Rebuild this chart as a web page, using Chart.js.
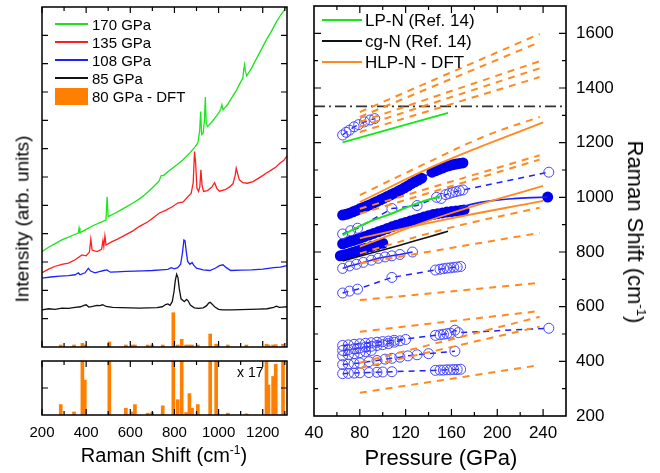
<!DOCTYPE html>
<html>
<head>
<meta charset="utf-8">
<script src="https://cdn.jsdelivr.net/npm/chart.js@4.4.1/dist/chart.umd.min.js"></script>
<style>
  body { margin: 0; background: #fff; }
  #wrap { position: relative; width: 660px; height: 473px; overflow: hidden;
          font-family: "Liberation Sans", Arial, sans-serif; color: #000; }
  canvas { position: absolute; }
  .t { position: absolute; white-space: nowrap; line-height: 1; }
  .ln { position: absolute; height: 2px; }
  sup { font-size: 0.6em; vertical-align: 0.7em; line-height: 0; }
</style>
</head>
<body>
<div id="wrap">
  <canvas id="cTop" width="265" height="357" style="left:32px;top:0"></canvas>
  <canvas id="cBot" width="289" height="122" style="left:20px;top:351px"></canvas>
  <canvas id="cRight" width="360" height="473" style="left:300px;top:0"></canvas>

  <!-- legend, left panel -->
  <div class="ln" style="left:55px;top:23px;width:33px;background:#19e619"></div>
  <div class="t" style="left:92px;top:16.7px;font-size:15px">170 GPa</div>
  <div class="ln" style="left:55px;top:41px;width:33px;background:#ff1e1e"></div>
  <div class="t" style="left:92px;top:34.7px;font-size:15px">135 GPa</div>
  <div class="ln" style="left:55px;top:59px;width:33px;background:#2020ff"></div>
  <div class="t" style="left:92px;top:52.7px;font-size:15px">108 GPa</div>
  <div class="ln" style="left:55px;top:77px;width:33px;background:#111"></div>
  <div class="t" style="left:92px;top:70.7px;font-size:15px">85 GPa</div>
  <div style="position:absolute;left:55px;top:88px;width:33px;height:17px;background:#ff8000"></div>
  <div class="t" style="left:92px;top:89.3px;font-size:15px">80 GPa - DFT</div>

  <div class="t" style="left:237px;top:365px;font-size:14px">x 17</div>

  <!-- legend, right panel -->
  <div class="ln" style="left:322px;top:19px;width:40px;background:#19e619"></div>
  <div class="t" style="left:365px;top:11.7px;font-size:17px">LP-N (Ref. 14)</div>
  <div class="ln" style="left:322px;top:40px;width:40px;background:#111"></div>
  <div class="t" style="left:365px;top:33.2px;font-size:17px">cg-N (Ref. 14)</div>
  <div class="ln" style="left:322px;top:61px;width:40px;background:#ff8a1f"></div>
  <div class="t" style="left:365px;top:53.7px;font-size:17px">HLP-N - DFT</div>

  <!-- axis titles -->
  <div class="t" style="left:22px;top:219px;font-size:19px;transform:translate(-50%,-50%) rotate(-90deg)">Intensity (arb. units)</div>
  <div class="t" style="left:164px;top:445px;font-size:20px;transform:translateX(-50%)">Raman Shift (cm<sup>-1</sup>)</div>
  <div class="t" style="left:441px;top:447px;font-size:22px;transform:translateX(-50%)">Pressure (GPa)</div>
  <div class="t" style="left:635px;top:232px;font-size:22px;transform:translate(-50%,-50%) rotate(90deg)">Raman Shift (cm<sup>-1</sup>)</div>
</div>

<script>
// ---- left panel: Raman spectra (intensity in arb. units) ----
const sx170 = [200,230,260,290,320,350,365,368,372,400,430,460,490,495,500,530,560,590,612,640,670,700,730,740,750,780,810,838,870,895,906,914,919,923,930,936,940,944,950,970,990,1004,1010,1015,1020,1040,1060,1080,1100,1110,1114,1118,1122,1128,1150,1180,1217,1240,1260,1280,1310];
const sy170 = [3.37,3.52,3.65,3.78,3.88,3.98,4.02,4.20,4.03,4.15,4.28,4.38,4.48,5.30,4.60,4.72,4.85,4.98,5.08,5.22,5.40,5.62,5.85,6.05,6.05,6.25,6.42,6.60,6.85,7.08,7.20,7.60,8.31,7.50,7.55,8.00,8.82,7.90,7.78,7.95,8.15,8.31,8.40,8.55,8.37,8.55,8.80,9.05,9.35,9.49,9.80,9.96,9.70,9.57,9.85,10.30,10.85,11.15,11.45,11.70,12.03];

const sx135 = [200,230,260,290,320,350,381,400,415,421,427,449,470,476,480,485,490,517,540,570,612,640,680,710,732,760,790,815,840,860,876,885,891,896,902,909,915,920,925,932,950,970,982,992,1004,1030,1050,1065,1075,1080,1087,1094,1110,1130,1156,1180,1200,1217,1240,1260,1280,1295,1310];
const sy135 = [2.62,2.75,2.85,2.92,2.96,3.08,3.25,3.22,3.35,3.80,3.42,3.37,3.45,3.75,3.55,3.92,3.60,3.72,3.80,3.92,4.10,4.25,4.42,4.60,4.73,4.82,4.95,5.08,5.12,5.30,5.43,5.80,6.90,6.50,5.60,5.49,5.65,6.25,5.70,5.49,5.52,5.65,5.80,5.60,5.50,5.55,5.65,5.76,6.05,6.31,6.10,5.90,5.80,5.78,5.84,5.95,6.05,6.14,6.25,6.35,6.50,6.58,6.75];

const sx108 = [200,240,280,320,350,365,372,395,410,420,440,460,480,494,510,540,580,620,660,700,740,770,785,800,815,828,836,843,848,853,860,870,880,888,900,930,960,985,1004,1020,1035,1055,1100,1150,1200,1250,1280,1310];
const sy108 = [2.43,2.47,2.50,2.52,2.55,2.62,2.55,2.62,2.78,2.68,2.62,2.66,2.70,2.72,2.64,2.65,2.67,2.68,2.69,2.70,2.72,2.74,2.80,2.76,2.80,2.92,3.30,3.78,3.75,3.40,3.02,2.92,2.98,2.88,2.78,2.72,2.70,2.78,2.87,2.90,2.80,2.70,2.71,2.72,2.75,2.80,2.82,2.87];

const sx85 = [200,230,260,290,320,350,375,390,400,412,430,449,462,475,490,520,560,600,640,680,720,745,760,770,780,790,798,804,810,816,822,830,845,855,862,872,890,910,930,945,955,962,970,985,1000,1020,1060,1100,1140,1180,1220,1250,1262,1275,1290,1310];
const sy85 = [1.31,1.35,1.33,1.37,1.36,1.40,1.42,1.47,1.49,1.41,1.43,1.47,1.46,1.49,1.43,1.40,1.39,1.38,1.37,1.38,1.39,1.42,1.50,1.52,1.47,1.60,1.95,2.35,2.57,2.45,2.05,1.70,1.60,1.68,1.63,1.48,1.38,1.36,1.38,1.45,1.55,1.58,1.52,1.40,1.33,1.31,1.31,1.32,1.33,1.34,1.35,1.40,1.44,1.40,1.41,1.42];

// DFT modes at 80 GPa
const dftShift = [285,345,383,394,505,580,610,621,679,699,747,795,815,833,853,868,880,906,962,989,1042,1126,1217,1226,1247,1259,1292];
const dftInt = [0.017,0.005,0.13,0.057,0.18,0.011,0.005,0.017,0.003,0.004,0.015,1.21,0.025,0.27,0.004,0.035,0.011,0.017,0.46,0.1,0.003,0.002,0.1,0.049,0.063,0.083,0.1];
const dftZoom = 17;

// left axis ticks
const leftXTicks = [200,300,400,500,600,700,800,900,1000,1100,1200,1300];
const leftXLabels = [200,400,600,800,1000,1200];
const leftTopYTicks = [1,2,3,4,5,6,7,8,9,10,11];
const leftBotYTicks = [0.75];

// ---- right panel: Raman shift vs pressure ----
// DFT straight dashed modes (80 -> 237 GPa)
const dashP = [80, 237];
const dashFrom = [1312,1294,1276,1258,1239,958,940,758,624,508,395,375,285];
const dashTo   = [1598,1568,1498,1472,1440,1154,1138,870,687,584,563,527,386];
// DFT curved dashed modes
const cdP1 = [80,138,190,237], cdV1 = [1008,1125,1225,1294];
const cdP2 = [80,160,237],     cdV2 = [795,890,962];
// DFT solid (HLP-N) modes
const solP = [80,150,240];
const sol1 = [983,1124,1274];
const sol2 = [820,929,1042];
const sol3 = [850,915,987];

// LP-N and cg-N (Ref. 14)
const lpUpP = [65,157], lpUpV = [1201,1309];
const lpLoP = [65,85,108,130,150], lpLoV = [862,905,941,978,1004];
const cgP = [65,90,115,140,157], cgV = [767,796,825,855,876];
const limitV = 1333;

// experiment, filled symbols
const pF1 = [65,68,71,74,77,80,83,86,89,92,95,98,101,104,107,110,113,116,119,122,125,128,131,134,143,146,149,152,155,158,161,164,167,170];
const vF1 = [935,938,942,947,952,958,963,968,973,979,985,991,997,1003,1009,1015,1021,1028,1035,1042,1050,1057,1063,1070,1092,1097,1102,1107,1112,1116,1119,1122,1124,1126];
const pF2 = [65,68,71,74,77,80,84,88,92,96,100,104,108,112,116,120,124,128,132,136,140,144,148,152,156,160,164,168,171];
const vF2 = [830,834,838,842,846,850,856,862,868,874,880,886,892,898,903,908,913,918,923,928,933,937,940,943,946,948,950,952,954];
const pF3 = [63,66,69,72,75,78,81,85,90,95,100];
const vF3 = [786,789,792,796,800,804,808,814,820,826,832];
const pF4 = [244], vF4 = [1001];
const pFit = [167,180,194,210,225,244], vFit = [962,977,987,994,998,1001];

// experiment, open symbols
const pO1 = [65,68,71,75,79,84,89,93], vO1 = [1228,1238,1246,1258,1266,1276,1283,1288];
const pO2 = [65,72,78,108,130,147,151,155,158,161,164,167,170,245];
const vO2 = [866,878,887,959,970,1000,996,1010,1014,1018,1021,1024,1027,1092];
const pO3 = [65,71,77,83,90,96,102,108,115,126];
const vO3 = [740,749,755,762,770,777,782,786,791,800];
const pO4 = [65,71,78,108,146,150,153,156,159,162,165,168];
const vO4 = [650,657,664,707,734,737,739,741,742,744,745,747];
const pRA = [65,70,75,80,85,90,95,100,105,110,146,150,153,156,159,163,166,245];
const vRA = [458,460,462,464,466,468,470,472,474,477,495,497,499,501,503,514,505,521];
const pRB = [65,70,75,80,85,90,95,100,105,110,115,120];
const vRB = [440,443,446,449,452,455,458,461,465,470,475,480];
const pRB2 = [65,70,75,80,85,90];
const vRB2 = [420,424,428,432,436,440];
const pRC = [65,70,75,80,88,95,102,108,115,122,130,140,163];
const vRC = [388,390,392,394,399,403,408,411,415,420,424,428,437];
const pRD = [65,70,75,80,88,95,100,108,146,150,153,156,159,162,165,168];
const vRD = [355,356,357,358,359,360,361,362,367,368,368,369,369,370,370,371];

// right axis ticks
const rightXTicks = [60,80,100,120,140,160,180,200,220,240];
const rightXLabels = [40,80,120,160,200,240];
const rightYTicks = [300,400,500,600,700,800,900,1000,1100,1200,1300,1400,1500,1600];
const rightYLabels = [200,400,600,800,1000,1200,1400,1600];

const GREEN = '#19e619', RED = '#ff1e1e', BLUE = '#2020ff', BLACK = '#111';
const ORANGE = '#ff8000', ORANGE_L = '#ff8a1f', OPEN = '#4646ff';
const FONT = '"Liberation Sans", Arial, sans-serif';

const pts = (xs, ys) => xs.map((x, i) => ({ x: x, y: ys[i] }));

// frame + inward ticks on all four sides
const frameTicks = {
  id: 'frameTicks',
  afterDatasetsDraw(chart, args, o) {
    const ctx = chart.ctx, a = chart.chartArea;
    const sx = chart.scales.x, sy = chart.scales.y;
    ctx.save();
    ctx.strokeStyle = '#000';
    ctx.lineWidth = 1.2;
    ctx.beginPath();
    o.xTicks.forEach(v => {
      const len = o.xMajor.includes(v) ? o.major : o.minor;
      const px = sx.getPixelForValue(v);
      ctx.moveTo(px, a.bottom); ctx.lineTo(px, a.bottom - len);
      ctx.moveTo(px, a.top); ctx.lineTo(px, a.top + len);
    });
    o.yTicks.forEach(v => {
      const len = o.yMajor.includes(v) ? o.major : o.minor;
      const py = sy.getPixelForValue(v);
      ctx.moveTo(a.left, py); ctx.lineTo(a.left + len, py);
      ctx.moveTo(a.right, py); ctx.lineTo(a.right - len, py);
    });
    ctx.stroke();
    ctx.lineWidth = o.frame;
    ctx.strokeRect(a.left, a.top, a.right - a.left, a.bottom - a.top);
    ctx.restore();
  }
};

const fixFit = (w, h) => s => {
  if (w != null) s.width = w;
  if (h != null) s.height = h;
  s.paddingTop = s.paddingBottom = s.paddingLeft = s.paddingRight = 0;
};
const setTicks = list => s => { s.ticks = list.map(v => ({ value: v })); };

const spec = (xs, ys, color) => ({
  type: 'line', data: pts(xs, ys), borderColor: color, borderWidth: 1.3,
  pointRadius: 0, tension: 0, fill: false
});

const baseOpts = {
  responsive: false, animation: false, events: [],
  plugins: { legend: { display: false }, tooltip: { enabled: false } }
};

// top-left: spectra + DFT bars
new Chart(document.getElementById('cTop'), {
  type: 'bar',
  data: {
    datasets: [
      spec(sx170, sy170, GREEN),
      spec(sx135, sy135, RED),
      spec(sx108, sy108, BLUE),
      spec(sx85, sy85, BLACK),
      { type: 'bar', data: pts(dftShift, dftInt), backgroundColor: ORANGE,
        barThickness: 3, minBarLength: 2, borderWidth: 0 }
    ]
  },
  options: Object.assign({}, baseOpts, {
    layout: { padding: { left: 10, right: 10, top: 7, bottom: 10 } },
    plugins: Object.assign({}, baseOpts.plugins, {
      frameTicks: { xTicks: leftXTicks, xMajor: leftXLabels, yTicks: leftTopYTicks, yMajor: leftTopYTicks,
                    major: 6, minor: 4, frame: 1.5 }
    }),
    scales: {
      x: { type: 'linear', min: 200, max: 1310, offset: false, display: false, ticks: { display: false }, afterFit: fixFit(null, 0) },
      y: { min: 0, max: 12, display: false, ticks: { display: false }, afterFit: fixFit(0, null) }
    }
  }),
  plugins: [frameTicks]
});

// bottom-left: DFT bars x17
new Chart(document.getElementById('cBot'), {
  type: 'scatter',
  data: {
    datasets: [
      { type: 'bar', data: pts(dftShift, dftInt.map(v => v * dftZoom)), backgroundColor: ORANGE,
        barThickness: 3, borderWidth: 0 }
    ]
  },
  options: Object.assign({}, baseOpts, {
    layout: { padding: { left: 22, right: 22, top: 10, bottom: 0 } },
    plugins: Object.assign({}, baseOpts.plugins, {
      frameTicks: { xTicks: leftXTicks, xMajor: leftXLabels, yTicks: leftBotYTicks, yMajor: leftBotYTicks,
                    major: 6, minor: 4, frame: 1.5 }
    }),
    scales: {
      x: {
        type: 'linear', min: 200, max: 1310, offset: false,
        grid: { display: false, drawTicks: false }, border: { display: false },
        afterBuildTicks: setTicks(leftXTicks),
        ticks: { autoSkip: false, maxRotation: 0, padding: 9,
                 color: '#000', font: { family: FONT, size: 15 },
                 callback: v => leftXLabels.includes(v) ? String(v) : '' },
        afterFit: fixFit(null, 58)
      },
      y: { type: 'linear', min: 0, max: 1.5, display: false, ticks: { display: false }, afterFit: fixFit(0, null) }
    }
  }),
  plugins: [frameTicks]
});

// right: Raman shift vs pressure
const lineDs = (ps, vs, color, width, dash, tension) => ({
  data: pts(ps, vs), showLine: true, borderColor: color, borderWidth: width,
  borderDash: dash || [], pointRadius: 0, tension: tension || 0, fill: false
});
const openDs = (ps, vs, dash) => ({
  data: pts(ps, vs), showLine: true, borderColor: BLUE, borderWidth: 1.5, borderDash: dash,
  pointRadius: 5, pointBorderColor: OPEN, pointBackgroundColor: 'rgba(0,0,0,0)', pointBorderWidth: 1, fill: false
});
const filledDs = (ps, vs) => ({
  data: pts(ps, vs), showLine: true, borderColor: BLUE, borderWidth: 1.5,
  pointRadius: 5.5, pointBorderColor: '#0000ee', pointBackgroundColor: '#0000ee', pointBorderWidth: 0, fill: false
});

const rightSets = [];
dashFrom.forEach((v, i) => rightSets.push(lineDs(dashP, [v, dashTo[i]], ORANGE_L, 2, [7, 6])));
rightSets.push(lineDs(cdP1, cdV1, ORANGE_L, 2, [7, 6], 0.4));
rightSets.push(lineDs(cdP2, cdV2, ORANGE_L, 2, [7, 6], 0.4));
rightSets.push(lineDs(solP, sol1, ORANGE_L, 1.8, [], 0.4));
rightSets.push(lineDs(solP, sol2, ORANGE_L, 1.8, [], 0.4));
rightSets.push(lineDs(solP, sol3, ORANGE_L, 1.8, [], 0.4));
rightSets.push(lineDs(lpUpP, lpUpV, GREEN, 2));
rightSets.push(lineDs(lpLoP, lpLoV, GREEN, 2, [], 0.4));
rightSets.push(lineDs(cgP, cgV, BLACK, 1.6, [], 0.4));
rightSets.push(lineDs([40, 260], [limitV, limitV], '#333', 1.8, [11, 4, 2, 4]));
rightSets.push(lineDs(pFit, vFit, BLUE, 1.6, [], 0.4));
rightSets.push(openDs(pO1, vO1, [6, 5]));
rightSets.push(openDs(pO2, vO2, [6, 5]));
rightSets.push(openDs(pO3, vO3, []));
rightSets.push(openDs(pO4, vO4, [6, 5]));
rightSets.push(openDs(pRA, vRA, [6, 5]));
rightSets.push(openDs(pRB, vRB, [6, 5]));
rightSets.push(openDs(pRB2, vRB2, [6, 5]));
rightSets.push(openDs(pRC, vRC, [6, 5]));
rightSets.push(openDs(pRD, vRD, [6, 5]));
rightSets.push(filledDs(pF1, vF1));
rightSets.push(filledDs(pF2, vF2));
rightSets.push(filledDs(pF3, vF3));
rightSets.push(filledDs(pF4, vF4));

new Chart(document.getElementById('cRight'), {
  type: 'scatter',
  data: { datasets: rightSets },
  options: Object.assign({}, baseOpts, {
    layout: { padding: { left: 14, right: 0, top: 6, bottom: 0 } },
    plugins: Object.assign({}, baseOpts.plugins, {
      frameTicks: { xTicks: rightXTicks, xMajor: rightXLabels, yTicks: rightYTicks, yMajor: rightYLabels,
                    major: 7, minor: 4, frame: 1.6 }
    }),
    scales: {
      x: {
        type: 'linear', position: 'bottom', min: 40, max: 260,
        grid: { display: false, drawTicks: false }, border: { display: false },
        ticks: { stepSize: 20, autoSkip: false, maxRotation: 0, includeBounds: false, padding: 7,
                 color: '#000', font: { family: FONT, size: 17 },
                 callback: v => rightXLabels.includes(v) ? String(v) : '' },
        afterFit: fixFit(null, 57)
      },
      y: {
        type: 'linear', position: 'right', min: 200, max: 1700,
        grid: { display: false, drawTicks: false }, border: { display: false },
        ticks: { stepSize: 100, autoSkip: false, includeBounds: false, padding: 10,
                 color: '#000', font: { family: FONT, size: 17 },
                 callback: v => rightYLabels.includes(v) ? String(v) : '' },
        afterFit: fixFit(94, null)
      }
    }
  }),
  plugins: [frameTicks]
});
</script>
</body>
</html>
